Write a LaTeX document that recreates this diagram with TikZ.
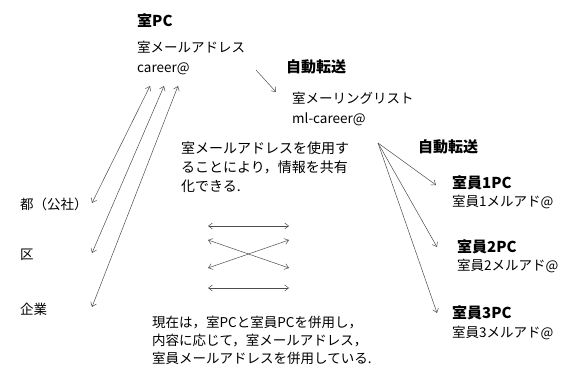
\documentclass[tikz,border=0pt]{standalone}
\usepackage{fontspec}
\setmainfont{Noto Sans CJK JP}
\usetikzlibrary{arrows.meta}
\begin{document}
\begin{tikzpicture}[x=1pt,y=-1pt,
  lbl/.style={anchor=west,inner sep=0pt,align=left,font=\fontsize{13.5}{19.5}\selectfont},
  para/.style={anchor=north west,inner sep=0pt,align=left,font=\fontsize{14}{19}\selectfont},
  hd/.style={anchor=west,inner sep=0pt,font=\fontsize{15}{16}\selectfont\bfseries},
  arr/.style={draw=black!70,line width=0.5pt,-{Straight Barb[length=4pt,width=6pt]}},
  darr/.style={draw=black!70,line width=0.5pt,{Straight Barb[length=4pt,width=6pt]}-{Straight Barb[length=4pt,width=6pt]}}]
\useasboundingbox (0,0) rectangle (566,369);
% headings and labels
\node[hd] (shitsupc) at (137,21) {室PC};
\node[lbl] (shitsumail) at (137,58) {室メールアドレス\\career@};
\node[hd] (jido1) at (286,67) {自動転送};
\node[lbl] (ml) at (292,109) {室メーリングリスト\\ml-career@};
\node[para] (share) at (181,142) {室メールアドレスを使用す\\ることにより，情報を共有\\化できる.};
\node[hd] (jido2) at (418,147) {自動転送};
\node[hd] (pc1) at (452,183) {室員1PC};
\node[lbl] (m1) at (452,202) {室員1メルアド@};
\node[hd] (pc2) at (457,247) {室員2PC};
\node[lbl] (m2) at (457,266) {室員2メルアド@};
\node[hd] (pc3) at (452,313) {室員3PC};
\node[lbl] (m3) at (452,333) {室員3メルアド@};
\node[lbl] (to) at (20,204) {都（公社）};
\node[lbl] (ku) at (20,255) {区};
\node[lbl] (kigyo) at (20,309) {企業};
\node[lbl,anchor=north west,font=\fontsize{13.5}{18}\selectfont] (now) at (152,316) {現在は，室PCと室員PCを併用し，\\内容に応じて，室メールアドレス，\\室員メールアドレスを併用している.};
% connector endpoints
\coordinate (a1s) at (150,86); \coordinate (a1e) at (92,203);
\coordinate (a2s) at (164,86); \coordinate (a2e) at (92,253);
\coordinate (a3s) at (178,86); \coordinate (a3e) at (92,307);
\coordinate (fs) at (256,70); \coordinate (fe) at (276,92);
\coordinate (fan) at (378,143);
\coordinate (f1) at (436,185); \coordinate (f2) at (437,247); \coordinate (f3) at (437,313);
\coordinate (h1l) at (208,226); \coordinate (h1r) at (289,226);
\coordinate (xtl) at (208,240); \coordinate (xtr) at (289,240);
\coordinate (xbl) at (208,268); \coordinate (xbr) at (289,268);
\coordinate (h2l) at (208,288); \coordinate (h2r) at (289,288);
% connectors
\draw[darr] (a1s) -- (a1e);
\draw[darr] (a2s) -- (a2e);
\draw[darr] (a3s) -- (a3e);
\draw[arr] (fs) -- (fe);
\draw[arr] (fan) -- (f1);
\draw[arr] (fan) -- (f2);
\draw[arr] (fan) -- (f3);
\draw[darr] (h1l) -- (h1r);
\draw[darr] (xtl) -- (xbr);
\draw[darr] (xbl) -- (xtr);
\draw[darr] (h2l) -- (h2r);
\end{tikzpicture}
\end{document}
